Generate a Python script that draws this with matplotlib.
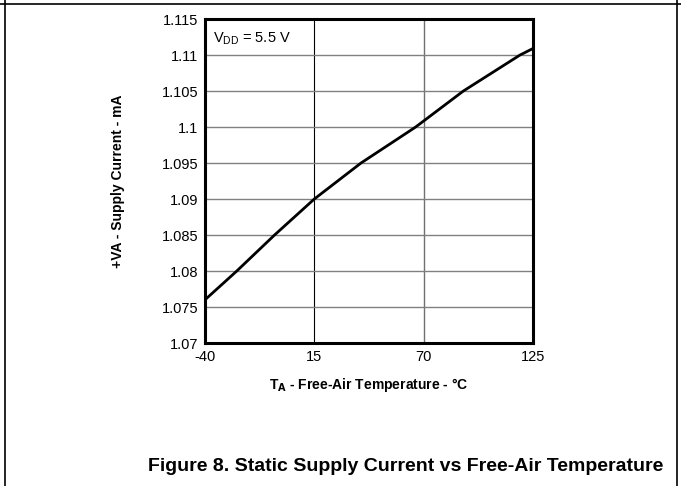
import matplotlib
matplotlib.use('Agg')
import matplotlib.pyplot as plt
from matplotlib.lines import Line2D

# Datos
temperatura = [-40, -24, -5, 15, 38.5, 66, 90, 118.5, 125]
corriente = [1.076, 1.080, 1.085, 1.090, 1.095, 1.100, 1.105, 1.110, 1.1109]
xticks = [-40, 15, 70, 125]
yticks = [1.07, 1.075, 1.08, 1.085, 1.09, 1.095, 1.1, 1.105, 1.11, 1.115]
ytick_labels = ['1.07', '1.075', '1.08', '1.085', '1.09', '1.095', '1.1', '1.105', '1.11', '1.115']

plt.rcParams['font.family'] = ['Liberation Sans', 'DejaVu Sans']

fig = plt.figure(figsize=(6.81, 4.86), dpi=100)
ax = fig.add_axes([0.301, 0.2942, 0.4816, 0.6667])

ax.plot(temperatura, corriente, color='black', linewidth=2.0, zorder=3,
        solid_joinstyle='round')

ax.set_xlim(-40, 125)
ax.set_ylim(1.07, 1.115)
ax.set_xticks(xticks)
ax.set_xticklabels([str(t) for t in xticks])
ax.set_yticks(yticks)
ax.set_yticklabels(ytick_labels)
ax.tick_params(length=0, labelsize=10.5, pad=5)

# Rejilla: horizontales grises, verticales negra y gris
ax.grid(True, axis='y', color='#808080', linewidth=1.0)
ax.grid(True, axis='x', color='#707070', linewidth=1.0)
lineas_x = ax.xaxis.get_gridlines()
lineas_x[1].set_color('black')
lineas_x[1].set_linewidth(0.8)

for s in ax.spines.values():
    s.set_linewidth(2.2)
    s.set_color('black')

ax.set_xlabel('T$_\\mathbf{A}$ - Free-Air Temperature - °C', fontsize=10,
              fontweight='bold', labelpad=9)
ax.set_ylabel('+VA - Supply Current - mA', fontsize=10, fontweight='bold', labelpad=26)

ax.text(0.025, 0.965, 'V$_\\mathregular{DD}$ = 5.5 V', transform=ax.transAxes,
        fontsize=10.5, va='top', ha='left')

# Marco de la página
fig.add_artist(Line2D([0, 1], [1 - 4 / 486, 1 - 4 / 486], color='black', linewidth=1.2))
fig.add_artist(Line2D([5 / 681, 5 / 681], [0, 1], color='black', linewidth=1.2))
fig.add_artist(Line2D([677 / 681, 677 / 681], [0, 1], color='black', linewidth=1.2))

fig.text(406 / 681, 1 - 466 / 486, 'Figure 8. Static Supply Current vs Free-Air Temperature',
         fontsize=14, fontweight='bold', ha='center', va='center')

fig.savefig('out.png', dpi=100)
